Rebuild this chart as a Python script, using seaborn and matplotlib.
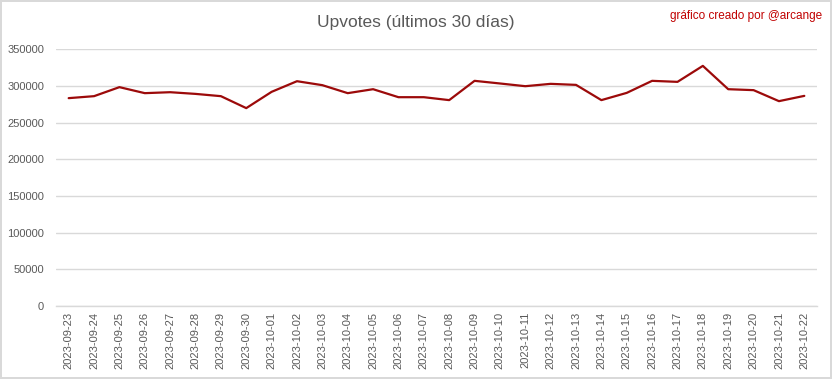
import matplotlib
matplotlib.use("Agg")
import matplotlib.pyplot as plt
import seaborn as sns
import pandas as pd

dates = ["2023-09-23", "2023-09-24", "2023-09-25", "2023-09-26", "2023-09-27",
         "2023-09-28", "2023-09-29", "2023-09-30", "2023-10-01", "2023-10-02",
         "2023-10-03", "2023-10-04", "2023-10-05", "2023-10-06", "2023-10-07",
         "2023-10-08", "2023-10-09", "2023-10-10", "2023-10-11", "2023-10-12",
         "2023-10-13", "2023-10-14", "2023-10-15", "2023-10-16", "2023-10-17",
         "2023-10-18", "2023-10-19", "2023-10-20", "2023-10-21", "2023-10-22"]
upvotes = [283400, 286100, 298400, 290200, 291500,
           289200, 286100, 269800, 292000, 306500,
           301100, 290200, 295600, 284700, 284700,
           280700, 307000, 303400, 299700, 302900,
           301500, 280700, 290600, 307000, 305600,
           327400, 295600, 294300, 279300, 286500]
yticks = [0, 50000, 100000, 150000, 200000, 250000, 300000, 350000]

sns.set_theme(style="white")
plt.rcParams['font.family'] = ['Liberation Sans', 'DejaVu Sans']

df = pd.DataFrame({"date": dates, "upvotes": upvotes})

fig = plt.figure(figsize=(8.32, 3.79), dpi=100, facecolor="white",
                 edgecolor="#d9d9d9", linewidth=1.5)
ax = fig.add_axes([56/832, 1 - 306/379, 761/832, (306 - 49.3)/379])

sns.lineplot(data=df, x="date", y="upvotes", ax=ax, sort=False,
             color="#9c0a0a", linewidth=1.6)

ax.set_ylim(0, 350000)
ax.set_xlim(-0.5, len(dates) - 0.5)
ax.set_yticks(yticks)
ax.set_yticklabels([str(v) for v in yticks], color="#595959", fontsize=8)
ax.yaxis.grid(True, color="#d9d9d9", linewidth=1)
ax.set_axisbelow(True)
ax.set_xticks(range(len(dates)))
ax.set_xticklabels(dates, rotation=90, color="#595959", fontsize=8)
ax.tick_params(axis="both", length=0, pad=4)
ax.tick_params(axis="y", pad=8.5)
ax.set_xlabel("")
ax.set_ylabel("")
for s in ["left", "right", "top"]:
    ax.spines[s].set_visible(False)
ax.spines["bottom"].set_color("#d9d9d9")
ax.spines["bottom"].set_linewidth(1)

fig.text(416/832, 1 - 22/379, "Upvotes (últimos 30 días)", ha="center", va="center",
         fontsize=12.5, color="#595959")
fig.text(822/832, 1 - 16/379, "gráfico creado por @arcange", ha="right", va="center",
         fontsize=8.5, color="#c00000")

fig.savefig("out.png", dpi=100, facecolor="white", edgecolor=fig.get_edgecolor())
